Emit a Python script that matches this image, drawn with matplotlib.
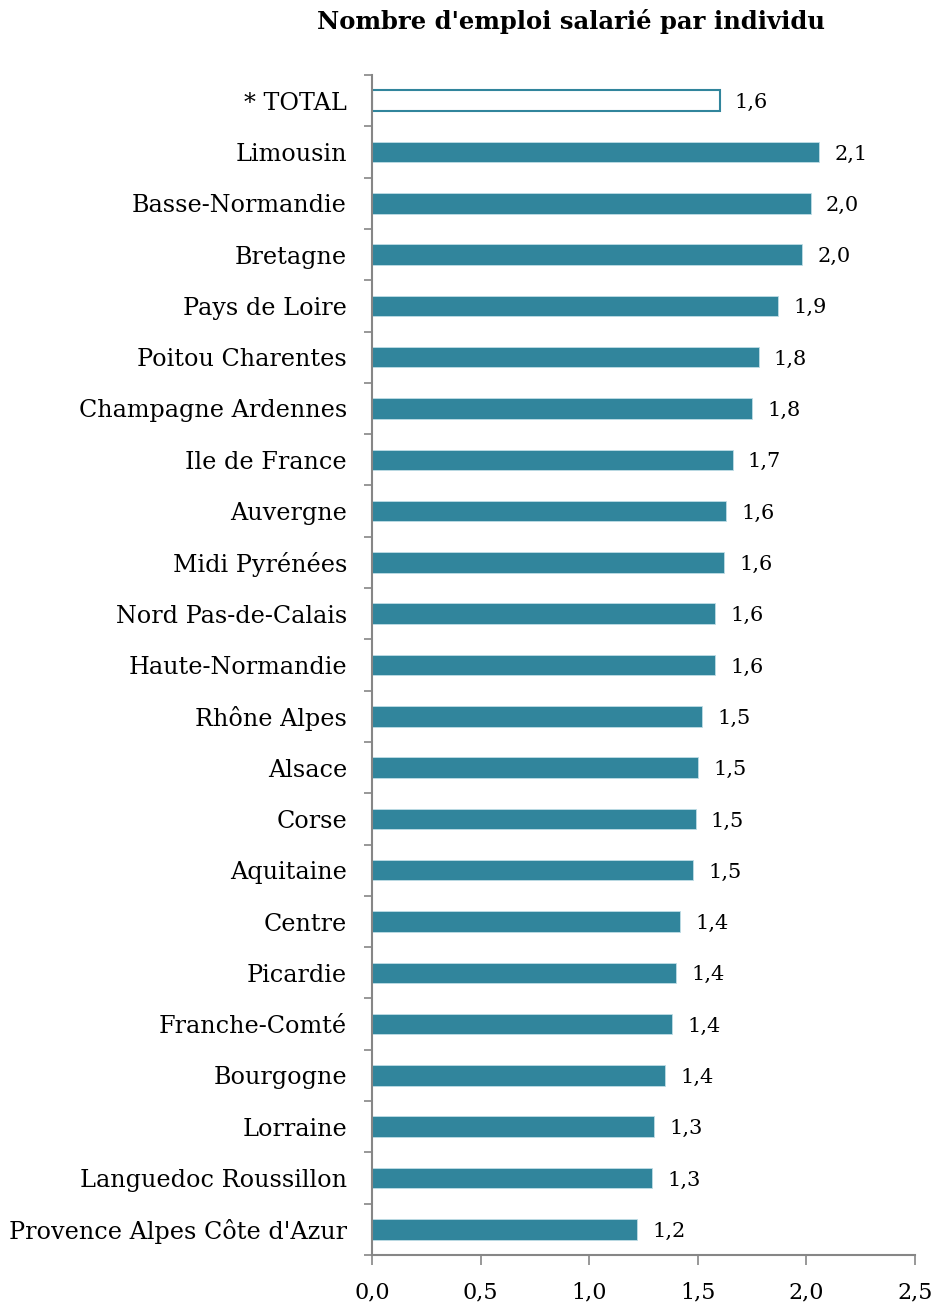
import matplotlib
matplotlib.use("Agg")
import matplotlib.pyplot as plt
import numpy as np

regions = [
    "* TOTAL", "Limousin", "Basse-Normandie", "Bretagne", "Pays de Loire",
    "Poitou Charentes", "Champagne Ardennes", "Ile de France", "Auvergne",
    "Midi Pyrénées", "Nord Pas-de-Calais", "Haute-Normandie", "Rhône Alpes",
    "Alsace", "Corse", "Aquitaine", "Centre", "Picardie", "Franche-Comté",
    "Bourgogne", "Lorraine", "Languedoc Roussillon", "Provence Alpes Côte d'Azur",
]
values = [
    1.60, 2.06, 2.02, 1.98, 1.87, 1.78, 1.75, 1.66, 1.63, 1.62, 1.58, 1.58,
    1.52, 1.50, 1.49, 1.48, 1.42, 1.40, 1.38, 1.35, 1.30, 1.29, 1.22,
]
x_ticks = [0.0, 0.5, 1.0, 1.5, 2.0, 2.5]
title = "Nombre d'emploi salarié par individu"

TEAL = "#31859C"
AXIS_GREY = "#868686"

plt.rcParams["font.family"] = ["DejaVu Serif"]

fig = plt.figure(figsize=(9.36, 13.05), dpi=100)
ax = fig.add_axes([372 / 936, 1 - 1255 / 1305, 543 / 936, 1180 / 1305])

n = len(regions)
ypos = np.arange(n)
for i, (name, v) in enumerate(zip(regions, values)):
    if i == 0:
        ax.barh(i, v, height=0.4, color="white", edgecolor=TEAL, linewidth=1.5)
    else:
        ax.barh(i, v, height=0.4, color=TEAL, edgecolor="#BFDDE6", linewidth=0.6)
    ax.annotate(f"{v:.1f}".replace(".", ","), xy=(v, i), xytext=(11, 0),
                textcoords="offset points", va="center_baseline", ha="left",
                fontsize=15, color="black")

ax.set_ylim(n - 0.5, -0.5)
ax.set_xlim(0, 2.5)
ax.set_yticks(ypos)
ax.set_yticklabels(regions, fontsize=17.2)
ax.set_yticks(np.arange(-0.5, n, 1.0), minor=True)
ax.tick_params(axis="y", which="major", length=0, pad=18)
ax.tick_params(axis="y", which="minor", length=6, width=1.2, color=AXIS_GREY)

ax.set_xticks(x_ticks)
ax.set_xticklabels([f"{t:.1f}".replace(".", ",") for t in x_ticks], fontsize=16)
ax.tick_params(axis="x", length=7, width=1.2, color=AXIS_GREY, pad=12)

for side in ("top", "right"):
    ax.spines[side].set_visible(False)
for side in ("left", "bottom"):
    ax.spines[side].set_color(AXIS_GREY)
    ax.spines[side].set_linewidth(1.5)

fig.text(571 / 936, 1 - 22 / 1305, title, ha="center", va="center",
         fontsize=17.5, fontweight="bold")

fig.savefig("out.png", dpi=100, facecolor="white")
